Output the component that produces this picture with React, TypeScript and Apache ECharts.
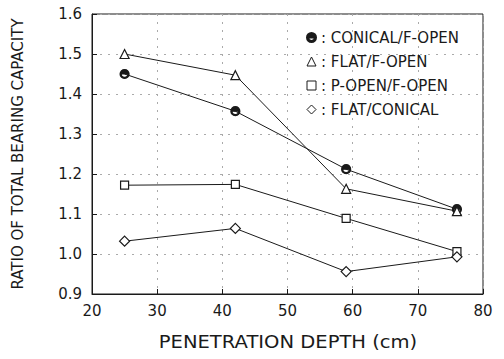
import React, { useEffect, useRef } from "react";
import * as echarts from "echarts";

const depths = [25, 42, 59, 76];
const conicalFOpen = [1.45, 1.357, 1.212, 1.112];
const flatFOpen = [1.5, 1.447, 1.163, 1.107];
const pOpenFOpen = [1.172, 1.174, 1.089, 1.006];
const flatConical = [1.032, 1.064, 0.956, 0.993];

const seriesNames = ["CONICAL/F-OPEN", "FLAT/F-OPEN", "P-OPEN/F-OPEN", "FLAT/CONICAL"];
const xTicks = { min: 20, max: 80, interval: 10 };
const yTicks = { min: 0.9, max: 1.6, interval: 0.1 };

const halfCircle =
  "path://M0,-10A10,10 0 1,1 0,10A10,10 0 1,1 0,-10Z M0,-7.5A7.5,7.5 0 1,0 0,7.5A7.5,7.5 0 1,0 0,-7.5Z M-7.5,0A7.5,7.5 0 0,1 7.5,0Z";

const FONT = "DejaVu Sans";
const INK = "#1a1a1a";

export default function App() {
  const ref = useRef<HTMLDivElement>(null);
  useEffect(() => {
    if (!ref.current) return;
    const chart = echarts.init(ref.current, undefined, { renderer: "svg" });
    const mk = (name: string, vals: number[], symbol: string, size: number) => ({
      name,
      type: "line",
      data: depths.map((d, i) => [d, vals[i]]),
      symbol,
      symbolSize: size,
      lineStyle: { color: INK, width: 1 },
      itemStyle: { color: symbol.startsWith("path") ? INK : "#fff", borderColor: INK, borderWidth: 1.2 },
      emphasis: { disabled: true },
    });
    chart.setOption({
      animation: false,
      backgroundColor: "#fff",
      grid: {
        left: 92,
        right: 21,
        top: 14,
        bottom: 65,
        show: true,
        borderColor: INK,
        borderWidth: 1,
        backgroundColor: "transparent",
      },
      legend: {
        orient: "vertical",
        left: 301,
        top: 25,
        itemWidth: 9,
        itemHeight: 9,
        itemGap: 9,
        selectedMode: false,
        textStyle: { fontFamily: FONT, fontSize: 15, color: INK },
        formatter: (n: string) => ": " + n,
        data: [
          { name: seriesNames[0], icon: halfCircle, itemStyle: { color: INK } },
          { name: seriesNames[1], icon: "triangle", itemStyle: { color: "#fff", borderColor: INK, borderWidth: 1 } },
          { name: seriesNames[2], icon: "rect", itemStyle: { color: "#fff", borderColor: INK, borderWidth: 1 } },
          { name: seriesNames[3], icon: "diamond", itemStyle: { color: "#fff", borderColor: INK, borderWidth: 1 } },
        ],
      },
      xAxis: {
        type: "value",
        min: xTicks.min,
        max: xTicks.max,
        interval: xTicks.interval,
        axisLine: { show: true, lineStyle: { color: INK, width: 1 } },
        axisTick: { show: true, inside: true, length: 5, lineStyle: { color: INK } },
        axisLabel: { fontFamily: FONT, fontSize: 15, color: INK, margin: 9 },
        splitLine: { show: true, lineStyle: { color: "#aaa", type: [2, 6], width: 1 } },
      },
      yAxis: {
        type: "value",
        min: yTicks.min,
        max: yTicks.max,
        interval: yTicks.interval,
        axisLine: { show: true, lineStyle: { color: INK, width: 1 } },
        axisTick: { show: true, inside: true, length: 5, lineStyle: { color: INK } },
        axisLabel: {
          fontFamily: FONT,
          fontSize: 15,
          color: INK,
          margin: 10,
          formatter: (v: number) => v.toFixed(1),
        },
        splitLine: { show: true, lineStyle: { color: "#aaa", type: [2, 6], width: 1 } },
      },
      graphic: [
        {
          type: "text",
          x: 288,
          y: 342,
          scaleX: 1.15,
          style: {
            text: "PENETRATION DEPTH (cm)",
            font: `17px '${FONT}'`,
            fill: INK,
            align: "center",
            verticalAlign: "middle",
          },
        },
        {
          type: "text",
          x: 18,
          y: 154,
          rotation: Math.PI / 2,
          scaleX: 1.0,
          style: {
            text: "RATIO OF TOTAL BEARING CAPACITY",
            font: `15px '${FONT}'`,
            fill: INK,
            align: "center",
            verticalAlign: "middle",
          },
        },
      ],
      series: [
        mk(seriesNames[0], conicalFOpen, halfCircle, 9),
        mk(seriesNames[1], flatFOpen, "triangle", 9),
        mk(seriesNames[2], pOpenFOpen, "rect", 8),
        mk(seriesNames[3], flatConical, "diamond", 10),
      ],
    });
    return () => chart.dispose();
  }, []);
  return <div ref={ref} style={{ width: 504, height: 359, position: "absolute", left: 0, top: 0 }} />;
}
